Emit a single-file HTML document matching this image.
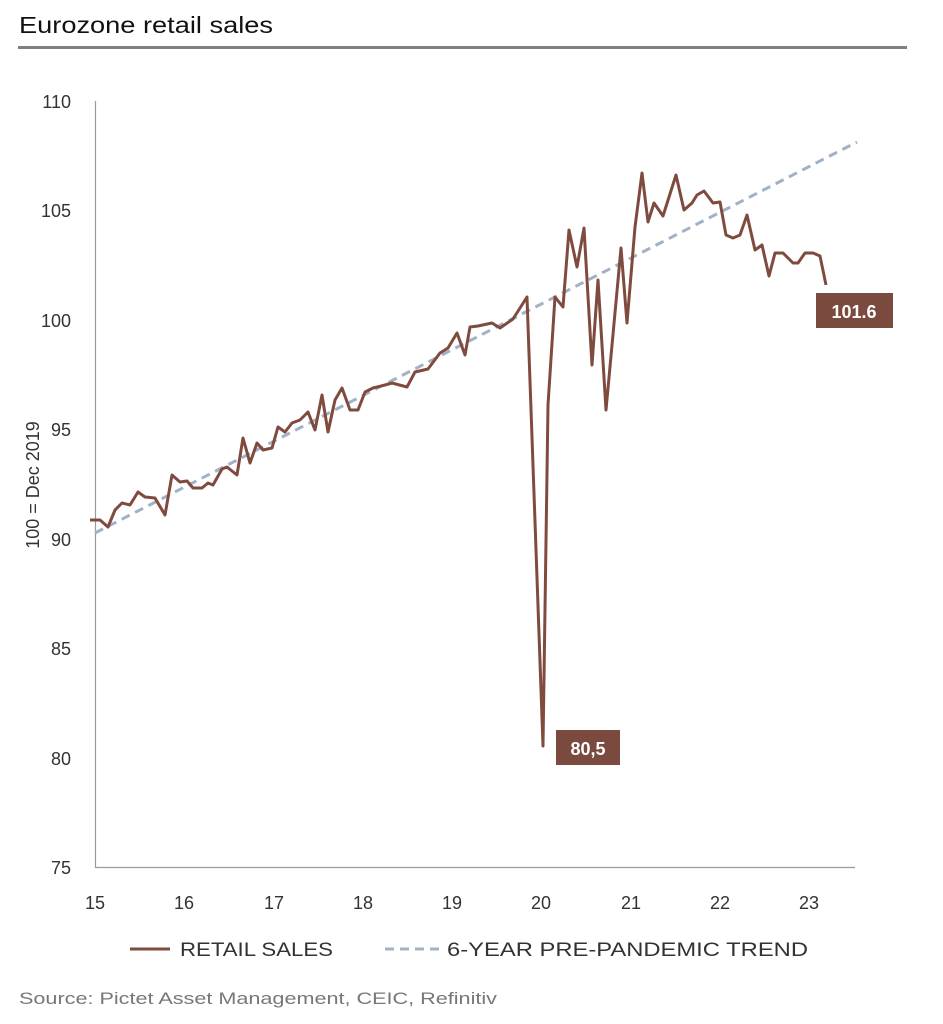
<!DOCTYPE html>
<html><head><meta charset="utf-8"><style>
body{margin:0;background:#fff;}
svg{display:block;font-family:"Liberation Sans",sans-serif;}
</style></head><body>
<svg width="943" height="1024" viewBox="0 0 943 1024">
<text x="19" y="33" font-size="23" fill="#111" textLength="254" lengthAdjust="spacingAndGlyphs">Eurozone retail sales</text>
<rect x="18" y="46" width="889" height="3" fill="#808080"/>
<g font-size="18" fill="#333" text-anchor="end">
<text x="71" y="108">110</text>
<text x="71" y="217">105</text>
<text x="71" y="327">100</text>
<text x="71" y="436">95</text>
<text x="71" y="546">90</text>
<text x="71" y="655">85</text>
<text x="71" y="765">80</text>
<text x="71" y="874">75</text>
</g>
<text transform="translate(39,485) rotate(-90)" font-size="18" fill="#333" text-anchor="middle">100 = Dec 2019</text>
<line x1="95.5" y1="101" x2="95.5" y2="867" stroke="#999" stroke-width="1.2"/>
<line x1="95" y1="867.5" x2="855" y2="867.5" stroke="#999" stroke-width="1.2"/>
<g font-size="18" fill="#333" text-anchor="middle">
<text x="95" y="909">15</text><text x="184" y="909">16</text><text x="274" y="909">17</text>
<text x="363" y="909">18</text><text x="452" y="909">19</text><text x="541" y="909">20</text>
<text x="631" y="909">21</text><text x="720" y="909">22</text><text x="809" y="909">23</text>
</g>
<line x1="95" y1="533" x2="857" y2="142" stroke="#a3b1c6" stroke-width="3" stroke-dasharray="9,6"/>
<polyline fill="none" stroke="#7f4b3f" stroke-width="3" stroke-linejoin="round" points="90,520 100,520 108,527 115,510 122,503 130,505 138,492 145,497 155,498 165,515 172,475 180,482 187,481 193,488 202,488 208,483 213,485 222,469 227,467 237,475 243,438 250,463 257,443 263,450 272,448 278,427 285,432 292,423 300,420 308,412 315,430 322,395 328,432 335,400 342,388 350,410 358,410 365,392 373,388 385,385 392,383 407,387 415,372 428,369 440,353 448,348 457,333 465,355 470,327 478,326 492,323 500,328 513,319 527,297 543,746 548,405 555,297 563,307 569,230 577,267 584,228 592,365 598,280 606,410 621,248 627,323 635,227 642,173 648,222 654,203 663,216 676,175 684,210 692,203 697,195 704,191 713,203 720,202 726,235 733,238 740,235 747,215 755,250 762,245 769,276 775,253 783,253 793,263 798,263 805,253 813,253 820,256 826,285"/>
<rect x="556" y="730" width="64" height="35" fill="#7a4a3f"/>
<text x="588" y="755" font-size="18" font-weight="bold" fill="#fff" text-anchor="middle">80,5</text>
<rect x="816" y="293" width="77" height="35" fill="#7a4a3f"/>
<text x="854" y="318" font-size="18" font-weight="bold" fill="#fff" text-anchor="middle">101.6</text>
<line x1="130" y1="949" x2="170" y2="949" stroke="#7f4b3f" stroke-width="3"/>
<text x="180" y="956" font-size="19" fill="#333" textLength="153" lengthAdjust="spacingAndGlyphs">RETAIL SALES</text>
<line x1="385" y1="949" x2="442" y2="949" stroke="#a3b1c6" stroke-width="3" stroke-dasharray="9,6"/>
<text x="447" y="956" font-size="19" fill="#333" textLength="361" lengthAdjust="spacingAndGlyphs">6-YEAR PRE-PANDEMIC TREND</text>
<text x="19" y="1004" font-size="17" fill="#777" textLength="478" lengthAdjust="spacingAndGlyphs">Source: Pictet Asset Management, CEIC, Refinitiv</text>
</svg>
</body></html>
